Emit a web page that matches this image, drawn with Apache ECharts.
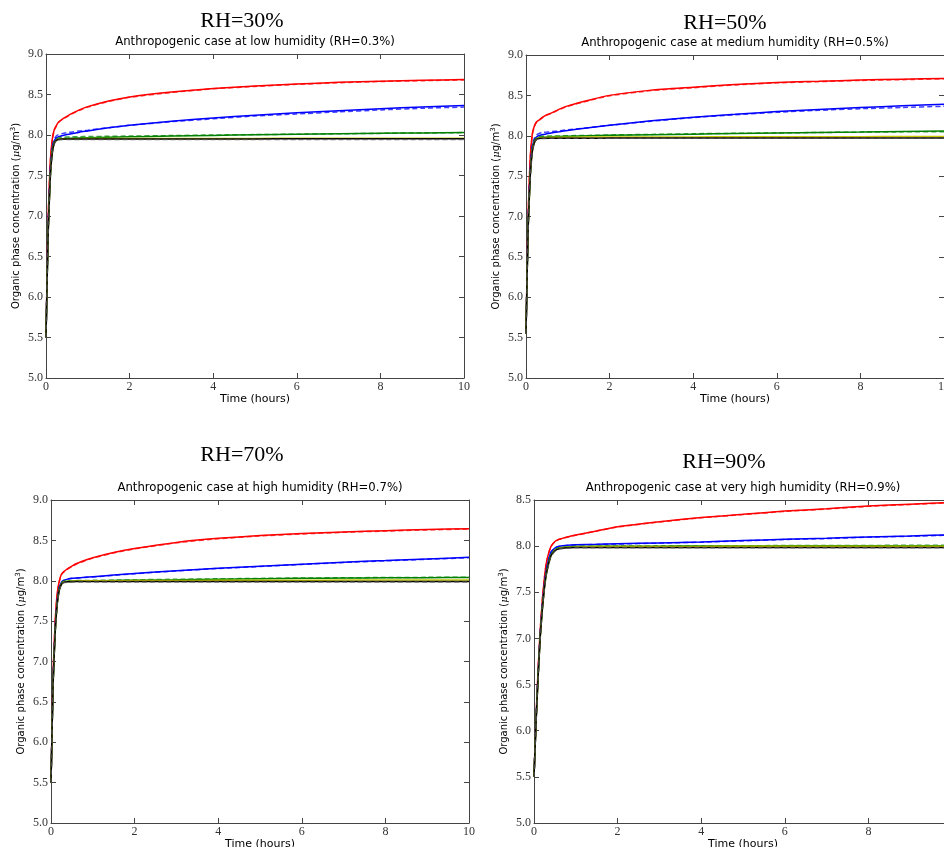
<!DOCTYPE html>
<html>
<head>
<meta charset="utf-8">
<script src="https://cdn.jsdelivr.net/npm/echarts@6/dist/echarts.min.js"></script>
<style>
  html, body { margin: 0; padding: 0; background: #fff; }
  #chart { width: 944px; height: 847px; }
</style>
</head>
<body>
<div id="chart"></div>
<script>
// Simulation time in hours (shared by every curve)
const timeHours = [0, 0.05, 0.1, 0.15, 0.2, 0.25, 0.3, 0.4, 0.5, 0.6, 0.8, 1, 1.5, 2, 3, 4, 5, 6, 7, 8, 9, 10];

const xTicks = [0, 2, 4, 6, 8, 10];

// RH = 30 %
const rh30Red     = [5.50, 6.95, 7.65, 7.95, 8.07, 8.12, 8.16, 8.20, 8.23, 8.26, 8.31, 8.35, 8.42, 8.47, 8.53, 8.575, 8.605, 8.63, 8.65, 8.665, 8.675, 8.685];
const rh30RedD    = [5.50, 6.93, 7.64, 7.94, 8.06, 8.11, 8.155, 8.195, 8.225, 8.255, 8.305, 8.345, 8.415, 8.465, 8.525, 8.57, 8.60, 8.625, 8.645, 8.66, 8.67, 8.68];
const rh30Blue    = [5.50, 6.82, 7.52, 7.84, 7.93, 7.965, 7.98, 7.995, 8.005, 8.015, 8.035, 8.05, 8.09, 8.12, 8.17, 8.21, 8.245, 8.275, 8.30, 8.325, 8.345, 8.365];
const rh30BlueD   = [5.50, 6.84, 7.54, 7.86, 7.95, 7.99, 8.005, 8.02, 8.03, 8.035, 8.05, 8.06, 8.09, 8.12, 8.165, 8.20, 8.235, 8.26, 8.285, 8.31, 8.33, 8.345];
const rh30Green   = [5.50, 6.78, 7.48, 7.80, 7.91, 7.94, 7.95, 7.955, 7.958, 7.96, 7.963, 7.966, 7.972, 7.978, 7.987, 7.995, 8.003, 8.01, 8.016, 8.021, 8.026, 8.03];
const rh30GreenD  = [5.50, 6.78, 7.48, 7.81, 7.92, 7.95, 7.962, 7.97, 7.975, 7.977, 7.979, 7.981, 7.984, 7.987, 7.993, 8.0, 8.005, 8.01, 8.015, 8.02, 8.025, 8.03];
const rh30Yellow  = [5.50, 6.76, 7.46, 7.79, 7.90, 7.935, 7.948, 7.952, 7.954, 7.955, 7.955, 7.956, 7.956, 7.957, 7.957, 7.958, 7.958, 7.959, 7.959, 7.96, 7.96, 7.96];
const rh30Black   = [5.50, 6.75, 7.45, 7.78, 7.90, 7.935, 7.945, 7.95, 7.95, 7.95, 7.951, 7.951, 7.951, 7.952, 7.952, 7.952, 7.952, 7.953, 7.953, 7.953, 7.953, 7.953];
const rh30BlackD  = [5.50, 6.74, 7.44, 7.77, 7.89, 7.93, 7.94, 7.944, 7.945, 7.945, 7.945, 7.945, 7.945, 7.945, 7.945, 7.945, 7.945, 7.945, 7.945, 7.945, 7.945, 7.945];

// RH = 50 %
const rh50Red     = [5.55, 7.00, 7.72, 8.02, 8.12, 8.17, 8.19, 8.23, 8.26, 8.28, 8.33, 8.37, 8.44, 8.50, 8.565, 8.60, 8.635, 8.66, 8.675, 8.69, 8.70, 8.71];
const rh50RedD    = [5.55, 6.99, 7.71, 8.01, 8.115, 8.165, 8.185, 8.225, 8.255, 8.275, 8.325, 8.365, 8.435, 8.495, 8.56, 8.595, 8.63, 8.655, 8.67, 8.685, 8.695, 8.705];
const rh50Blue    = [5.55, 6.88, 7.55, 7.86, 7.95, 7.985, 8.00, 8.015, 8.025, 8.035, 8.05, 8.065, 8.10, 8.13, 8.185, 8.23, 8.265, 8.30, 8.325, 8.35, 8.37, 8.39];
const rh50BlueD   = [5.55, 6.90, 7.57, 7.88, 7.97, 8.01, 8.025, 8.04, 8.045, 8.05, 8.06, 8.075, 8.10, 8.13, 8.18, 8.225, 8.26, 8.29, 8.315, 8.335, 8.35, 8.365];
const rh50Green   = [5.55, 6.85, 7.50, 7.82, 7.93, 7.965, 7.975, 7.982, 7.986, 7.989, 7.992, 7.995, 8.00, 8.005, 8.013, 8.02, 8.028, 8.035, 8.04, 8.045, 8.052, 8.06];
const rh50GreenD  = [5.55, 6.85, 7.50, 7.83, 7.94, 7.975, 7.99, 7.994, 7.996, 7.997, 7.998, 8.00, 8.004, 8.01, 8.017, 8.025, 8.03, 8.035, 8.04, 8.045, 8.048, 8.05];
const rh50Yellow  = [5.55, 6.84, 7.49, 7.81, 7.92, 7.96, 7.972, 7.976, 7.978, 7.98, 7.981, 7.982, 7.983, 7.984, 7.985, 7.986, 7.987, 7.988, 7.988, 7.989, 7.99, 7.99];
const rh50Black   = [5.55, 6.83, 7.48, 7.80, 7.915, 7.955, 7.965, 7.968, 7.97, 7.97, 7.97, 7.97, 7.97, 7.971, 7.971, 7.971, 7.971, 7.972, 7.972, 7.972, 7.972, 7.972];
const rh50BlackD  = [5.55, 6.82, 7.47, 7.79, 7.91, 7.95, 7.96, 7.965, 7.967, 7.968, 7.968, 7.968, 7.968, 7.968, 7.968, 7.968, 7.968, 7.968, 7.968, 7.968, 7.968, 7.968];

// RH = 70 %
const rh70Red     = [5.50, 6.85, 7.50, 7.85, 8.00, 8.08, 8.11, 8.15, 8.18, 8.21, 8.25, 8.285, 8.35, 8.40, 8.475, 8.525, 8.56, 8.585, 8.605, 8.62, 8.635, 8.645];
const rh70RedD    = [5.50, 6.84, 7.49, 7.84, 7.99, 8.075, 8.105, 8.145, 8.175, 8.205, 8.245, 8.28, 8.345, 8.395, 8.47, 8.52, 8.555, 8.58, 8.60, 8.615, 8.63, 8.64];
const rh70Blue    = [5.50, 6.75, 7.40, 7.76, 7.92, 7.98, 8.005, 8.02, 8.03, 8.035, 8.042, 8.05, 8.07, 8.09, 8.125, 8.155, 8.18, 8.205, 8.23, 8.25, 8.27, 8.29];
const rh70BlueD   = [5.50, 6.75, 7.40, 7.76, 7.92, 7.98, 8.003, 8.018, 8.027, 8.032, 8.04, 8.047, 8.067, 8.087, 8.122, 8.152, 8.177, 8.202, 8.226, 8.246, 8.266, 8.285];
const rh70Green   = [5.50, 6.73, 7.37, 7.73, 7.90, 7.965, 7.99, 7.995, 7.997, 7.998, 8.00, 8.00, 8.003, 8.007, 8.013, 8.02, 8.025, 8.03, 8.033, 8.036, 8.038, 8.04];
const rh70GreenD  = [5.50, 6.73, 7.37, 7.73, 7.90, 7.968, 7.994, 7.999, 8.001, 8.002, 8.004, 8.005, 8.008, 8.012, 8.018, 8.024, 8.029, 8.034, 8.037, 8.04, 8.042, 8.044];
const rh70Yellow  = [5.50, 6.72, 7.36, 7.72, 7.89, 7.958, 7.985, 7.992, 7.995, 7.997, 7.999, 8.00, 8.001, 8.002, 8.004, 8.005, 8.006, 8.007, 8.008, 8.009, 8.01, 8.01];
const rh70Black   = [5.50, 6.72, 7.36, 7.72, 7.89, 7.955, 7.98, 7.987, 7.989, 7.99, 7.99, 7.99, 7.99, 7.99, 7.99, 7.99, 7.99, 7.99, 7.99, 7.99, 7.99, 7.99];
const rh70BlackD  = [5.50, 6.71, 7.35, 7.71, 7.88, 7.95, 7.975, 7.982, 7.984, 7.985, 7.985, 7.985, 7.985, 7.985, 7.985, 7.985, 7.985, 7.985, 7.985, 7.985, 7.985, 7.985];

// RH = 90 %
const rh90Red     = [5.50, 6.15, 6.68, 7.10, 7.42, 7.66, 7.83, 7.99, 8.05, 8.075, 8.10, 8.12, 8.165, 8.21, 8.265, 8.31, 8.345, 8.38, 8.405, 8.435, 8.455, 8.475];
const rh90RedD    = [5.50, 6.15, 6.68, 7.10, 7.42, 7.66, 7.83, 7.99, 8.048, 8.073, 8.098, 8.118, 8.163, 8.207, 8.262, 8.307, 8.342, 8.376, 8.402, 8.431, 8.451, 8.471];
const rh90Blue    = [5.50, 6.12, 6.63, 7.05, 7.36, 7.59, 7.75, 7.93, 7.98, 7.998, 8.01, 8.015, 8.02, 8.025, 8.035, 8.045, 8.06, 8.075, 8.085, 8.10, 8.11, 8.125];
const rh90BlueD   = [5.50, 6.12, 6.63, 7.05, 7.36, 7.59, 7.75, 7.93, 7.978, 7.996, 8.008, 8.013, 8.018, 8.023, 8.033, 8.043, 8.057, 8.072, 8.082, 8.097, 8.107, 8.121];
const rh90Green   = [5.50, 6.11, 6.61, 7.03, 7.33, 7.56, 7.72, 7.90, 7.96, 7.98, 7.99, 7.995, 7.998, 8.00, 8.00, 8.001, 8.002, 8.003, 8.003, 8.004, 8.005, 8.005];
const rh90GreenD  = [5.50, 6.11, 6.61, 7.03, 7.33, 7.56, 7.72, 7.90, 7.962, 7.982, 7.992, 7.997, 8.0, 8.002, 8.003, 8.004, 8.005, 8.006, 8.007, 8.008, 8.009, 8.01];
const rh90Yellow  = [5.50, 6.10, 6.60, 7.02, 7.32, 7.55, 7.71, 7.89, 7.955, 7.976, 7.987, 7.992, 7.995, 7.996, 7.997, 7.997, 7.998, 7.998, 7.999, 7.999, 8.0, 8.0];
const rh90Black   = [5.50, 6.10, 6.60, 7.02, 7.32, 7.55, 7.71, 7.89, 7.95, 7.972, 7.982, 7.985, 7.985, 7.985, 7.985, 7.985, 7.985, 7.985, 7.985, 7.985, 7.985, 7.985];
const rh90BlackD  = [5.50, 6.09, 6.59, 7.01, 7.31, 7.54, 7.70, 7.88, 7.945, 7.968, 7.978, 7.982, 7.982, 7.982, 7.982, 7.982, 7.982, 7.982, 7.982, 7.982, 7.982, 7.982];

const panelTitles = ['RH=30%', 'RH=50%', 'RH=70%', 'RH=90%'];
const panelSubtitles = [
  'Anthropogenic case at low humidity (RH=0.3%)',
  'Anthropogenic case at medium humidity (RH=0.5%)',
  'Anthropogenic case at high humidity (RH=0.7%)',
  'Anthropogenic case at very high humidity (RH=0.9%)'
];
const yRanges = [[5, 9], [5, 9], [5, 9], [5, 8.5]];

const panelCurves = [
  [rh30Red, rh30RedD, rh30Blue, rh30BlueD, rh30Green, rh30GreenD, rh30Yellow, rh30Black, rh30BlackD],
  [rh50Red, rh50RedD, rh50Blue, rh50BlueD, rh50Green, rh50GreenD, rh50Yellow, rh50Black, rh50BlackD],
  [rh70Red, rh70RedD, rh70Blue, rh70BlueD, rh70Green, rh70GreenD, rh70Yellow, rh70Black, rh70BlackD],
  [rh90Red, rh90RedD, rh90Blue, rh90BlueD, rh90Green, rh90GreenD, rh90Yellow, rh90Black, rh90BlackD]
];

// Style of each curve (same order as in panelCurves)
const curveStyles = [
  { color: '#ff0000', dashed: false },
  { color: '#ff0000', dashed: true },
  { color: '#0000ff', dashed: false },
  { color: '#0000ff', dashed: true },
  { color: '#008000', dashed: false },
  { color: '#008000', dashed: true },
  { color: '#c8c800', dashed: false },
  { color: '#000000', dashed: false },
  { color: '#555555', dashed: true }
];

// Plot frames (pixels); the right-hand frames run past the page edge
const frames = [
  { left: 46,  top: 54,  width: 418, height: 324, titleX: 242, titleY: 21, subX: 255, subY: 42 },
  { left: 526, top: 55,  width: 418, height: 323, titleX: 725, titleY: 23, subX: 735, subY: 43 },
  { left: 51,  top: 500, width: 418, height: 323, titleX: 242, titleY: 455, subX: 260, subY: 488 },
  { left: 534, top: 500, width: 418, height: 323, titleX: 724, titleY: 462, subX: 743, subY: 488 }
];

const tickFont = { fontFamily: 'Liberation Serif', fontSize: 12, color: '#333' };
const axisLineStyle = { color: '#444', width: 1 };

const grid = [], xAxis = [], yAxis = [], series = [], graphic = [];

frames.forEach((f, i) => {
  grid.push({
    left: f.left, top: f.top, width: f.width, height: f.height,
    containLabel: false, outerBoundsMode: 'none'
  });
  const [ymin, ymax] = yRanges[i];

  // bottom axis with labels
  xAxis.push({
    type: 'value', gridIndex: i, min: 0, max: 10, interval: 2, position: 'bottom',
    axisLine: { show: true, onZero: false, lineStyle: axisLineStyle },
    axisTick: { show: true, inside: true, length: 5, lineStyle: axisLineStyle },
    axisLabel: { ...tickFont, margin: 3, hideOverlap: false, formatter: v => xTicks.includes(v) ? String(v) : '' },
    splitLine: { show: false },
    name: 'Time (hours)', nameLocation: 'middle', nameGap: 13,
    nameTextStyle: { fontFamily: 'DejaVu Sans', fontSize: 11, color: '#000' }
  });
  // top frame with ticks
  xAxis.push({
    type: 'value', gridIndex: i, min: 0, max: 10, interval: 2, position: 'top',
    axisLine: { show: true, onZero: false, lineStyle: axisLineStyle },
    axisTick: { show: true, inside: true, length: 5, lineStyle: axisLineStyle },
    axisLabel: { show: false }, splitLine: { show: false }
  });
  // left axis with labels
  yAxis.push({
    type: 'value', gridIndex: i, min: ymin, max: ymax, interval: 0.5, position: 'left',
    axisLine: { show: true, onZero: false, lineStyle: axisLineStyle },
    axisTick: { show: true, inside: true, length: 5, lineStyle: axisLineStyle },
    axisLabel: { ...tickFont, margin: 3, formatter: v => v.toFixed(1) },
    splitLine: { show: false },
    name: '{n|Organic phase concentration (}{m|μ}{n|g/m}{s|3}{n|)}',
    nameLocation: 'middle', nameGap: 24, nameRotate: 90,
    nameTextStyle: {
      rich: {
        n: { fontFamily: 'DejaVu Sans', fontSize: 10, color: '#000' },
        m: { fontFamily: 'DejaVu Serif', fontStyle: 'italic', fontSize: 10, color: '#000' },
        s: { fontFamily: 'DejaVu Sans', fontSize: 7, color: '#000', verticalAlign: 'top', padding: [0, 0, 5, 0] }
      }
    }
  });
  // right frame with ticks
  yAxis.push({
    type: 'value', gridIndex: i, min: ymin, max: ymax, interval: 0.5, position: 'right',
    axisLine: { show: true, onZero: false, lineStyle: axisLineStyle },
    axisTick: { show: true, inside: true, length: 5, lineStyle: axisLineStyle },
    axisLabel: { show: false }, splitLine: { show: false }
  });

  panelCurves[i].forEach((vals, k) => {
    const st = curveStyles[k];
    series.push({
      type: 'line',
      xAxisIndex: i * 2, yAxisIndex: i * 2,
      data: timeHours.map((t, j) => [t, vals[j]]),
      showSymbol: false, symbol: 'none',
      smooth: 0.15,
      lineStyle: {
        color: st.color, width: 1.5,
        type: st.dashed ? [5, 3] : 'solid',
        opacity: st.dashed ? 0.75 : 1
      },
      silent: true, animation: false, z: 2 + k
    });
  });

  graphic.push({
    type: 'text', x: f.titleX, y: f.titleY,
    style: { text: panelTitles[i], font: '22px "Liberation Serif"', fill: '#000', textAlign: 'center', textVerticalAlign: 'middle' }
  });
  graphic.push({
    type: 'text', x: f.subX, y: f.subY,
    style: { text: panelSubtitles[i], font: '11.7px "DejaVu Sans"', fill: '#000', textAlign: 'center', textVerticalAlign: 'middle' }
  });
});

const chart = echarts.init(document.getElementById('chart'), null, { renderer: 'canvas' });
chart.setOption({
  backgroundColor: '#fff',
  animation: false,
  grid, xAxis, yAxis, series, graphic
});
</script>
</body>
</html>
